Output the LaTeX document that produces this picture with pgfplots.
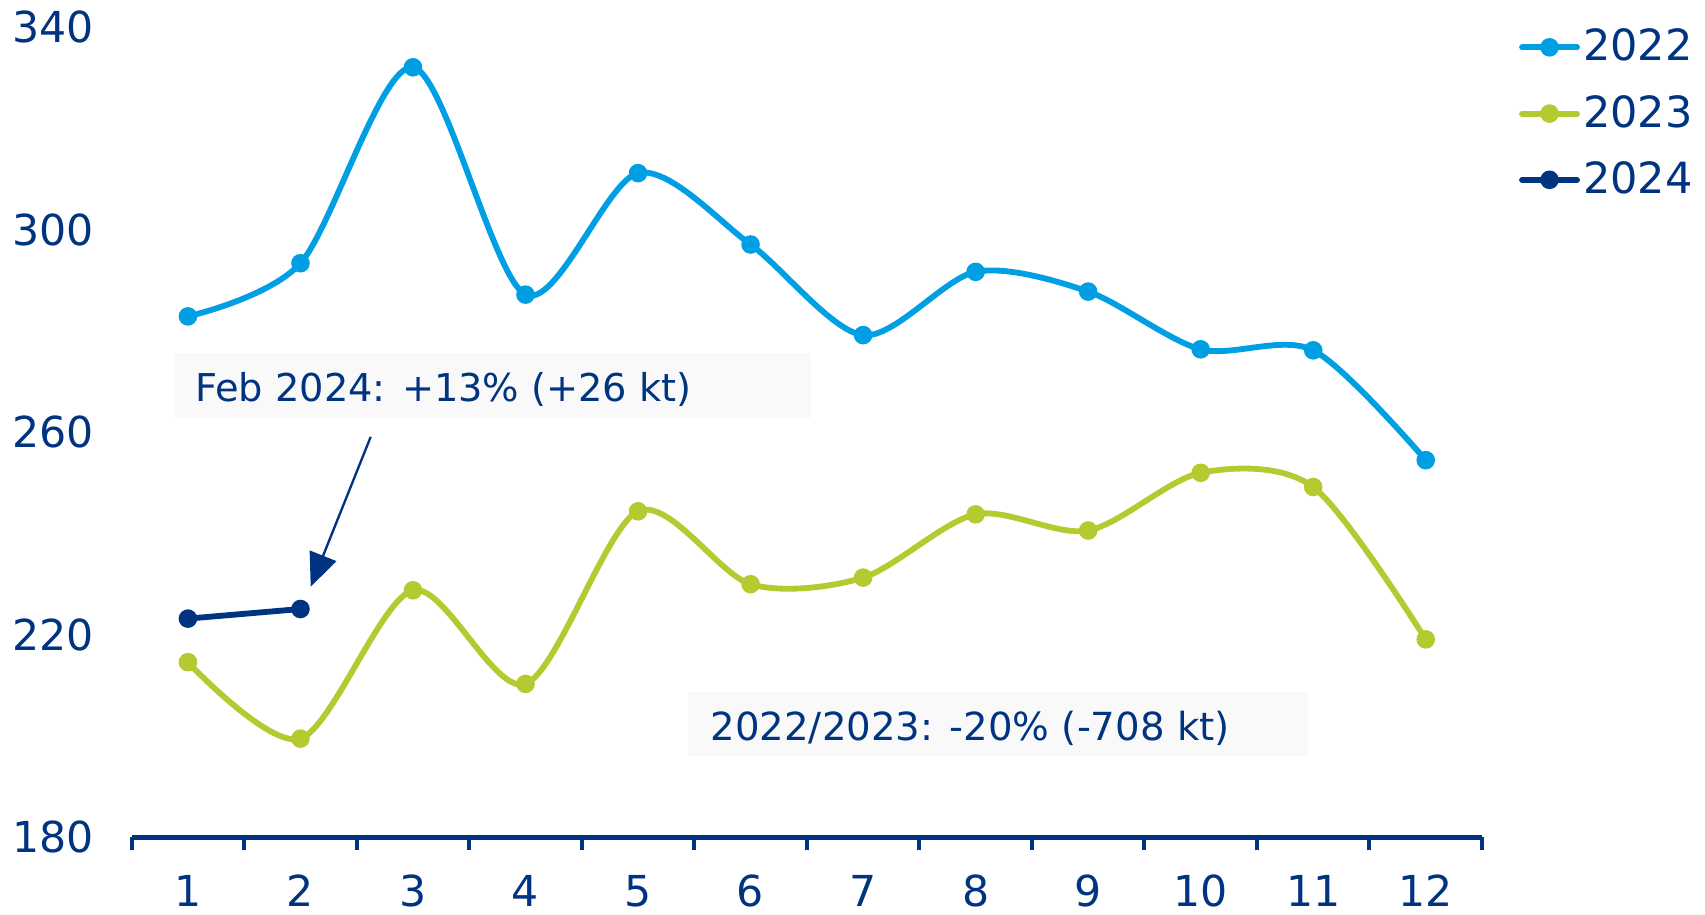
\documentclass[border=0pt]{standalone}
\usepackage{fontspec}
\setmainfont{DejaVu Sans}
\usepackage{pgfplots}
\pgfplotsset{compat=1.18}
\usetikzlibrary{arrows.meta}
\definecolor{navy}{RGB}{0,51,128}
\definecolor{c22}{RGB}{0,159,227}
\definecolor{c23}{RGB}{181,202,48}
\definecolor{boxbg}{RGB}{249,249,249}
\begin{document}
\begin{tikzpicture}
\path[use as bounding box] (-39.5pt,-23.3pt) rectangle (472pt,251.2pt);
\begin{axis}[at={(0,0)}, anchor=south west, scale only axis,
  width=405.1pt, height=243pt,
  xmin=0.5, xmax=12.5, ymin=180, ymax=340,
  ytick={180,220,260,300,340},
  xtick={1,2,3,4,5,6,7,8,9,10,11,12},
  minor xtick={0.5,1.5,2.5,3.5,4.5,5.5,6.5,7.5,8.5,9.5,10.5,11.5,12.5},
  axis x line*=bottom, axis y line*=left,
  y axis line style={draw=none},
  x axis line style={navy, line width=1.35pt},
  tick align=outside,
  major tick length=3.8pt, minor tick length=3.8pt,
  major x tick style={draw=none}, major y tick style={draw=none},
  minor x tick style={navy, line width=1.2pt},
  ticklabel style={font=\fontsize{12.8}{15}\selectfont, text=navy},
  yticklabel style={xshift=-4pt},
  xticklabel style={yshift=-4pt},
  /pgf/number format/assume math mode=true,
  clip=false,
  legend cell align=left,
  legend style={at={(rel axis cs:1.027,1.003)}, anchor=north west, draw=none, fill=none,
    inner sep=0pt, row sep=6.8pt, nodes={inner sep=1pt},
    font=\fontsize{12.9}{15}\selectfont, text=navy},
  legend image code/.code={\draw[mark repeat=2,mark phase=2,line cap=round,#1] plot coordinates {(0pt,0pt) (8.25pt,0pt) (16.5pt,0pt)};},
  every axis plot/.append style={line width=1.75pt, mark=*, mark size=1.9pt, mark options={solid}},
]
% annotation boxes
\fill[boxbg] (axis cs:0.877,262.9) rectangle (axis cs:6.537,275.7);
\fill[boxbg] (axis cs:5.444,196.1) rectangle (axis cs:10.952,208.7);
\node[anchor=base west, inner sep=0pt, text=navy, font=\fontsize{11.5}{14}\selectfont] at (axis cs:1.06,266.05) {Feb 2024: +13\% (+26 kt)};
\node[anchor=base west, inner sep=0pt, text=navy, font=\fontsize{11.6}{14}\selectfont] at (axis cs:5.639,199.08) {2022/2023: -20\% (-708 kt)};
\draw[navy, line width=0.7pt, -{Triangle[length=10pt,width=8.5pt]}] (axis cs:2.624,259.1) -- (axis cs:2.091,229.5);

\addplot[c22, smooth] coordinates {
(1,282.9) (2,293.4) (3,332.1) (4,287.2) (5,311.2) (6,297.1) (7,279.2) (8,291.7) (9,287.8) (10,276.4) (11,276.2) (12,254.5)};
\addlegendentry{2022}
\addplot[c23, smooth] coordinates {
(1,214.6) (2,199.5) (3,228.8) (4,210.3) (5,244.4) (6,230.0) (7,231.3) (8,243.8) (9,240.6) (10,252.0) (11,249.2) (12,219.1)};
\addlegendentry{2023}
\addplot[navy] coordinates {(1,223.2) (2,225.1)};
\addlegendentry{2024}
\end{axis}
\end{tikzpicture}
\end{document}
